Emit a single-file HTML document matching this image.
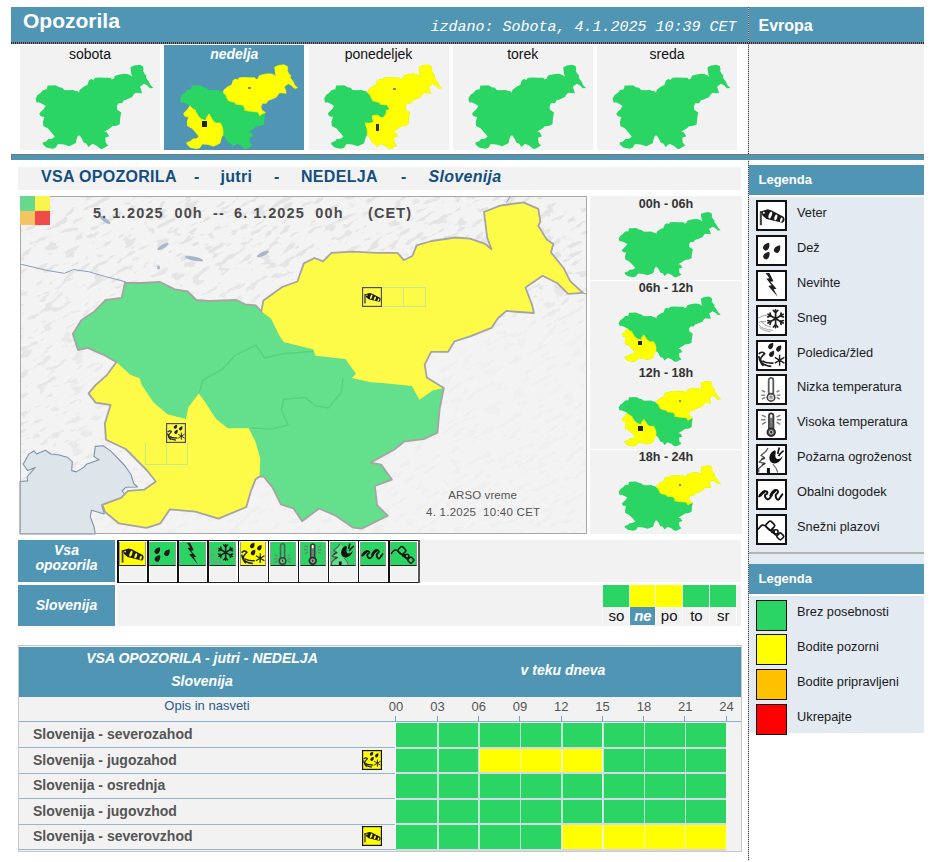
<!DOCTYPE html>
<html><head><meta charset="utf-8"><title>Opozorila</title>
<style>
*{margin:0;padding:0;box-sizing:border-box}
html,body{width:940px;height:862px;overflow:hidden;background:#fff}
body{position:relative;font-family:"Liberation Sans",sans-serif;color:#222}
.a{position:absolute}
.t{position:absolute;white-space:nowrap;line-height:1}
</style></head><body>

<svg width="0" height="0" style="position:absolute"><defs>
<polygon id="slo" points="72.8,334.0 81.3,320.2 94.0,311.7 105.7,300.0 121.7,297.9 124.9,283.0 140.9,283.0 160.0,282.0 174.9,289.4 187.7,291.5 196.2,300.0 208.9,301.0 236.6,300.0 245.0,304.3 255.7,305.3 261.3,311.3 263.4,300.6 282.6,286.8 297.4,281.5 303.8,263.4 314.5,258.0 323.0,261.3 331.5,252.8 352.8,251.7 376.2,252.8 397.4,252.8 403.8,260.2 412.3,256.0 416.6,245.3 431.5,241.0 455.3,237.5 470.2,238.6 485.1,243.9 491.5,249.2 487.2,237.5 484.0,212.0 500.0,205.6 523.4,202.4 538.3,208.8 540.4,221.5 538.3,225.8 546.8,239.6 553.2,243.9 551.0,252.4 563.8,268.3 570.2,281.1 583.0,292.8 568.0,293.9 557.4,283.2 542.6,275.8 525.5,287.5 531.9,304.5 534.0,313.0 519.1,312.0 506.4,310.9 497.9,318.3 491.5,327.9 470.2,336.4 454.5,341.3 448.1,351.9 431.1,351.9 424.7,364.7 426.8,377.4 443.8,388.1 439.6,409.4 437.4,432.8 423.8,439.1 404.7,441.3 394.0,449.8 370.6,462.6 381.3,464.7 391.9,479.6 374.9,486.0 377.0,505.1 387.7,515.7 361.7,528.7 353.2,527.7 336.2,516.0 319.1,508.5 302.1,521.3 293.6,508.5 280.9,504.3 272.3,487.2 263.8,476.6 259.6,476.6 255.6,479.2 251.0,490.8 246.3,507.0 218.5,518.7 195.3,511.7 169.8,509.4 160.5,523.3 146.6,527.9 118.7,523.3 104.8,511.7 102.5,504.7 121.0,497.8 128.0,490.8 144.2,489.7 155.8,481.5 146.6,470.0 125.7,449.0 106.0,439.8 104.8,423.5 110.6,405.0 95.5,402.6 88.6,393.4 95.5,385.2 107.1,374.8 116.4,362.0 102.6,354.3 87.7,347.9 78.0,350.0"/>
<polygon id="ne" points="261.3,311.3 263.4,300.6 282.6,286.8 297.4,281.5 303.8,263.4 314.5,258.0 323.0,261.3 331.5,252.8 352.8,251.7 376.2,252.8 397.4,252.8 403.8,260.2 412.3,256.0 416.6,245.3 431.5,241.0 455.3,237.5 470.2,238.6 485.1,243.9 491.5,249.2 487.2,237.5 484.0,212.0 500.0,205.6 523.4,202.4 538.3,208.8 540.4,221.5 538.3,225.8 546.8,239.6 553.2,243.9 551.0,252.4 563.8,268.3 570.2,281.1 583.0,292.8 568.0,293.9 557.4,283.2 542.6,275.8 525.5,287.5 531.9,304.5 534.0,313.0 519.1,312.0 506.4,310.9 497.9,318.3 491.5,327.9 470.2,336.4 454.5,341.3 448.1,351.9 431.1,351.9 424.7,364.7 426.8,377.4 443.8,388.1 433.2,390.2 419.4,399.8 411.9,386.0 380.0,382.8 370.9,382.3 351.7,378.1 356.0,373.8 345.3,358.9 315.5,355.7 313.4,349.4 283.6,341.9 279.4,335.5 270.9,318.5"/>
<polygon id="sw" points="116.4,362.0 130.3,374.8 139.6,378.3 141.9,385.2 153.5,402.6 167.4,414.2 186.0,418.9 188.3,407.3 198.8,393.4 204.6,401.5 216.2,418.9 227.8,428.2 248.7,428.2 255.6,442.1 260.3,458.3 259.6,476.6 255.6,479.2 251.0,490.8 246.3,507.0 218.5,518.7 195.3,511.7 169.8,509.4 160.5,523.3 146.6,527.9 118.7,523.3 104.8,511.7 102.5,504.7 121.0,497.8 128.0,490.8 144.2,489.7 155.8,481.5 146.6,470.0 125.7,449.0 106.0,439.8 104.8,423.5 110.6,405.0 95.5,402.6 88.6,393.4 95.5,385.2 107.1,374.8 116.4,362.0"/>
<polygon id="se" points="251.0,428.0 270.9,429.1 287.9,424.9 281.5,410.0 283.6,399.4 304.9,397.2 315.5,405.7 328.3,407.9 341.1,393.0 343.2,378.1 351.7,378.1 370.9,382.3 380.0,382.8 411.9,386.0 419.4,399.8 433.2,390.2 443.8,388.1 439.6,409.4 437.4,432.8 423.8,439.1 404.7,441.3 394.0,449.8 370.6,462.6 381.3,464.7 391.9,479.6 374.9,486.0 377.0,505.1 387.7,515.7 361.7,528.7 353.2,527.7 336.2,516.0 319.1,508.5 302.1,521.3 293.6,508.5 280.9,504.3 272.3,487.2 263.8,476.6 259.6,476.6 260.3,458.3 255.6,442.1"/>
<mask id="sockm" maskUnits="userSpaceOnUse" x="0" y="0" width="27" height="27"><rect x="0" y="0" width="27" height="27" fill="#fff"/><ellipse cx="12.3" cy="13.1" rx="1.5" ry="3.5" transform="rotate(20 12.3 13.1)" fill="#000"/><ellipse cx="17.8" cy="15.5" rx="1.4" ry="3" transform="rotate(20 17.8 15.5)" fill="#000"/><ellipse cx="23.3" cy="17.8" rx="1.2" ry="2.3" transform="rotate(20 23.3 17.8)" fill="#000"/><circle cx="5.8" cy="10.8" r="1" fill="#000"/></mask>
<g id="i1"><rect x="1.8" y="9.4" width="2.1" height="13.8" fill="#444"/>
<path d="M1.8,9.7 L9.7,7.3 L13.2,8.2 L25.6,14.8 C27.3,16.4 26.6,20.6 24.2,20.8 L8.5,16.9 L4.2,13.3 L3.9,10.9 Z" fill="#1a1a1a" mask="url(#sockm)"/></g>
<path id="drop" d="M0,-4.8 C2.3,-2.6 3.1,-0.6 3,1.3 A2.9,2.9 0 1 1 -2.9,1.3 C-3,-0.6 -2.3,-2.6 0,-4.8Z"/>
<g id="i2" fill="#1e1e1e"><use href="#drop" transform="translate(8.5,9.6) rotate(35) scale(0.95)"/><use href="#drop" transform="translate(19.4,12) rotate(35) scale(0.95)"/><use href="#drop" transform="translate(8.7,18.4) rotate(35) scale(0.95)"/></g>
<polygon id="i3" fill="#1e1e1e" points="7.6,0.9 11.4,0.9 15.5,9.3 12.4,9.8 18.5,16.8 15.7,17.3 19.9,25 10.3,13.9 13.6,13.2 8.4,6.8 11.4,6.3"/>
<g id="i4"><path d="M0.3,11 Q5,8 9,8.2 M0.6,15.5 Q4,14 8,14.5 M0.7,17.6 Q3,22 15,23.4 M1.5,20.5 Q6,24.5 12.5,24.8 M3,14 Q6,19 13,20.2" stroke="#8c8c8c" stroke-width="0.8" fill="none"/>
<g stroke="#1e1e1e" stroke-width="1.7" fill="none" stroke-linecap="round" transform="translate(0.6,1)"><path d="M17,1.8 V19.6 M9.4,6.3 L24.6,15.1 M9.4,15.1 L24.6,6.3"/>
<path d="M14.8,2.4 L17,4.6 L19.2,2.4 M14.8,19 L17,16.8 L19.2,19 M9.2,8.9 L12.1,8 L11.5,5 M24.8,12.5 L21.9,13.4 L22.5,16.4 M11.5,16.4 L12.1,13.4 L9.2,12.5 M22.5,5 L21.9,8 L24.8,8.9"/></g></g>
<g id="i5"><g fill="#1e1e1e"><use href="#drop" transform="translate(12.9,3.9) rotate(35) scale(0.78)"/><use href="#drop" transform="translate(20.9,6.4) rotate(35) scale(0.78)"/><use href="#drop" transform="translate(13.8,11.8) rotate(35) scale(0.78)"/></g>
<path d="M0.7,12 C2.5,10 5.5,9.5 6.6,11.6 C5,13.5 3,14.5 2.6,17.5 C2.4,21 5,23.3 13.3,24.3 M4.4,18.6 C5.5,20.6 9,21 15.5,21.2 M0.8,14.2 C1.5,18 2,21 5.5,23.8" stroke="#1e1e1e" stroke-width="1.7" fill="none"/>
<path d="M21.6,12.8 V23.7 M16.8,15.4 L26.4,21.2 M16.8,21.2 L26.4,15.4" stroke="#1e1e1e" stroke-width="1.4"/></g>
<g id="i6"><path d="M10.7,18.6 V4.2 A2.3,2.3 0 0 1 15.3,4.2 V18.6" fill="none" stroke="#5a5a5a" stroke-width="1.8"/><circle cx="13" cy="21.4" r="3.7" fill="none" stroke="#3e3e3e" stroke-width="1.7"/><circle cx="13" cy="21.4" r="1.7" fill="none" stroke="#9a9a9a" stroke-width="1"/><rect x="12.5" y="20" width="1" height="2.2" fill="#333"/>
<path d="M3.9,14.3 L7.2,16.1 M3.2,19.1 H7.2 M3.9,23.2 L7.2,21.3 M21.3,14.3 L18.7,16.1 M22.5,19.1 H18.7 M21.7,23.2 L18.7,21.3" stroke="#7a7a7a" stroke-width="1.4"/></g>
<g id="i7"><path d="M10.9,18.2 V4.6 A2.3,2.3 0 0 1 15.5,4.6 V18.2" fill="#777" stroke="#3a3a3a" stroke-width="1.6"/><rect x="12.2" y="3.4" width="2" height="3.6" rx="1" fill="#fff"/><circle cx="13.2" cy="21.2" r="3.9" fill="#5a5a5a" stroke="#2a2a2a" stroke-width="1.6"/><circle cx="13.2" cy="21.2" r="1.8" fill="none" stroke="#ccc" stroke-width="0.9"/><rect x="12.7" y="19.9" width="1" height="2.2" fill="#222"/>
<path d="M4.1,4.1 L7.8,6.2 M3.2,8.7 H7.4 M4.1,13.3 L7.8,11.2 M22.3,4.1 L18.6,6.2 M23.2,8.7 H19 M22.3,13.3 L18.6,11.2" stroke="#7a7a7a" stroke-width="1.4"/></g>
<g id="i8"><path d="M10,2 L8.2,5 L3,9.5 L6,11.3 L1.1,16.1 L6.7,17.3 L0.7,22.5 V26.5 H19.7 L18.2,22.5 L14.8,18 C12.5,16.5 11.3,14.5 11.4,12.5 C11.5,9.5 12.5,7 13.5,5.5 Z" fill="#fff" fill-opacity="0.25"/><path d="M10,2 L8.2,5 L3,9.5 L6,11.3 L1.1,16.1 L6.7,17.3 L0.7,22.5 V26.5" stroke="#555" stroke-width="1.3" fill="none" stroke-linejoin="round"/>
<path d="M14.8,18 L18.2,22.5 L19.7,26.5" stroke="#666" stroke-width="1.1" fill="none"/>
<path d="M3.3,13.6 L7,11.7 M4,18.8 L7.4,17.3" stroke="#333" stroke-width="1.6"/>
<rect x="8.9" y="22" width="3" height="5" fill="#111"/>
<path d="M16.9,4.2 C13.4,5.4 11.3,8.6 11.4,12.5 C11.5,15.6 13.6,17.5 16.6,17.4 C20.2,17.3 23.2,14.4 25,9.7 C23.5,11.6 21.6,13.2 19.6,13.1 C17.6,13 17,10.6 17.4,8.6 C17.7,7 18.3,5.5 16.9,4.2 Z" fill="#111"/>
<path d="M21.3,1.6 C20.6,4 20.1,6 19.8,7.8 M25.6,4.6 C23.4,6.4 21.6,8 20.5,10" stroke="#111" stroke-width="1.7" fill="none"/></g>
<g id="i9"><path d="M0.8,16 C2.5,13.5 4.5,10.5 7,10.2 C8.8,10 9.8,11.2 9.1,12.5 C8.5,13.5 7.2,13.2 7,14.3 C6.8,15.6 8,18.4 9.8,18.4 C12,18.4 13,15 14.5,12 C15.5,10 16.8,9 18.3,9.1 C19.9,9.3 20.3,10.6 19.7,11.8 C19.1,12.8 17.9,12.8 17.7,14 C17.5,16 18.5,18.9 20.1,18.7 C22.1,18.4 23.3,13.7 25,12.9" stroke="#111" stroke-width="2" fill="none"/>
<path d="M1.8,15 C3.3,12.8 5,10.9 7,10.6 M12.6,15.2 C13.6,12.6 15.3,9.9 17.8,9.5" stroke="#111" stroke-width="3" fill="none"/></g>
<g id="i10" stroke="#111" stroke-width="1.6" fill="none"><path d="M0,13.5 C1.5,11.5 3,9.3 4.5,9.1 C5.5,9 6.2,9.3 7,9.6 L13,14.8 L18.6,19.6"/><rect x="-3.7" y="-3.7" width="7.4" height="7.4" rx="1.8" transform="translate(12.2,9.6) rotate(45)"/><circle cx="14.8" cy="15.1" r="1.4"/><circle cx="18" cy="15.9" r="2.1"/><rect x="-2.8" y="-2.8" width="5.6" height="5.6" rx="1.5" transform="translate(22.3,20.4) rotate(45)"/></g>

</defs></svg>
<div class="a" style="left:11px;top:7px;width:913px;height:35px;background:#5096b4"></div>
<div class="a" style="left:11px;top:42px;width:913px;height:1.5px;background:repeating-linear-gradient(90deg,#2a2a2a 0 1px,#7a8c96 1px 2px)"></div>
<div class="a" style="left:748px;top:7px;width:1px;height:854px;background:repeating-linear-gradient(180deg,#444 0 1px,#c8c8c8 1px 2px)"></div>
<div class="t" style="left:23px;top:10px;font-size:21px;font-weight:bold;color:#fff">Opozorila</div>
<div class="t" style="left:430.5px;top:19.5px;font-family:'Liberation Mono',monospace;font-style:italic;font-size:15px;color:#fff">izdano: Sobota, 4.1.2025 10:39 CET</div>
<div class="t" style="left:758.5px;top:17.5px;font-size:16px;font-weight:bold;color:#fff">Evropa</div>
<div class="a" style="left:20.00px;top:45px;width:140px;height:105px;background:#f2f2f2"></div>
<div class="t" style="left:20.00px;top:47px;width:140px;text-align:center;font-size:14px;color:#111">sobota</div>
<svg class="a" style="left:0;top:0" width="940" height="160"><g transform="translate(18.81,12.48) scale(0.2307,0.2580)"><use href="#slo" fill="#2ad564"/></g></svg>
<div class="a" style="left:164.25px;top:45px;width:140px;height:105px;background:#5096b4"></div>
<div class="t" style="left:164.25px;top:47px;width:140px;text-align:center;font-size:14px;font-weight:bold;font-style:italic;color:#fff">nedelja</div>
<svg class="a" style="left:0;top:0" width="940" height="160"><g transform="translate(163.06,12.48) scale(0.2307,0.2580)"><use href="#slo" fill="#2ad564"/><use href="#ne" fill="#ffff00" stroke="#ffff00" stroke-width="2.5" stroke-linejoin="round"/><use href="#sw" fill="#ffff00" stroke="#ffff00" stroke-width="2.5" stroke-linejoin="round"/></g></svg>
<div class="a" style="left:308.50px;top:45px;width:140px;height:105px;background:#f2f2f2"></div>
<div class="t" style="left:308.50px;top:47px;width:140px;text-align:center;font-size:14px;color:#111">ponedeljek</div>
<svg class="a" style="left:0;top:0" width="940" height="160"><g transform="translate(307.31,12.48) scale(0.2307,0.2580)"><use href="#slo" fill="#2ad564"/><use href="#ne" fill="#ffff00" stroke="#ffff00" stroke-width="2.5" stroke-linejoin="round"/><use href="#se" fill="#ffff00" stroke="#ffff00" stroke-width="2.5" stroke-linejoin="round"/></g></svg>
<div class="a" style="left:452.75px;top:45px;width:140px;height:105px;background:#f2f2f2"></div>
<div class="t" style="left:452.75px;top:47px;width:140px;text-align:center;font-size:14px;color:#111">torek</div>
<svg class="a" style="left:0;top:0" width="940" height="160"><g transform="translate(451.56,12.48) scale(0.2307,0.2580)"><use href="#slo" fill="#2ad564"/></g></svg>
<div class="a" style="left:597.00px;top:45px;width:140px;height:105px;background:#f2f2f2"></div>
<div class="t" style="left:597.00px;top:47px;width:140px;text-align:center;font-size:14px;color:#111">sreda</div>
<svg class="a" style="left:0;top:0" width="940" height="160"><g transform="translate(595.81,12.48) scale(0.2307,0.2580)"><use href="#slo" fill="#2ad564"/></g></svg>
<div class="a" style="left:749px;top:44px;width:175px;height:110px;background:#f2f2f2"></div>
<div class="a" style="left:201.5px;top:120.5px;width:5px;height:6px;background:#222"></div>
<div class="a" style="left:248px;top:87px;width:3px;height:2px;background:#888"></div>
<div class="a" style="left:376px;top:124px;width:3px;height:7px;background:#333"></div>
<div class="a" style="left:393px;top:87.5px;width:3px;height:2px;background:#888"></div>
<div class="a" style="left:11px;top:154px;width:913px;height:6px;background:#5096b4;border-top:1px solid #777;border-left:1px solid #777"></div>
<div class="a" style="left:18px;top:167px;width:723px;height:23px;background:#f2f2f2"></div>
<div class="t" style="top:169px;font-size:16px;font-weight:bold;color:#124f80;letter-spacing:0.3px;left:41px">VSA OPOZORILA</div>
<div class="t" style="top:169px;font-size:16px;font-weight:bold;color:#124f80;letter-spacing:0.3px;left:194px">-</div>
<div class="t" style="top:169px;font-size:16px;font-weight:bold;color:#124f80;letter-spacing:0.3px;left:220.5px">jutri</div>
<div class="t" style="top:169px;font-size:16px;font-weight:bold;color:#124f80;letter-spacing:0.3px;left:274px">-</div>
<div class="t" style="top:169px;font-size:16px;font-weight:bold;color:#124f80;letter-spacing:0.3px;left:301px">NEDELJA</div>
<div class="t" style="top:169px;font-size:16px;font-weight:bold;color:#124f80;letter-spacing:0.3px;left:401px">-</div>
<div class="t" style="top:169px;font-size:16px;font-weight:bold;color:#124f80;letter-spacing:0.3px;left:428.5px;font-style:italic">Slovenija</div>
<svg class="a" style="left:0;top:0" width="940" height="862">
<rect x="20.5" y="196.5" width="566" height="337" fill="#f3f3f3" stroke="#a8a8a8" stroke-width="1"/>
<defs><filter id="relief" x="0" y="0" width="100%" height="100%" color-interpolation-filters="sRGB"><feTurbulence type="fractalNoise" baseFrequency="0.07 0.2" numOctaves="3" seed="4" result="n"/><feColorMatrix in="n" type="matrix" values="0 0 0 0 0.865  0 0 0 0 0.865  0 0 0 0 0.865  -12 0 0 0 5.2"/></filter><linearGradient id="rg" x1="0" y1="0" x2="0" y2="1"><stop offset="0" stop-color="#fff"/><stop offset="0.6" stop-color="#fff" stop-opacity="0.9"/><stop offset="1" stop-color="#fff" stop-opacity="0"/></linearGradient><linearGradient id="rg2" x1="0" y1="0" x2="1" y2="0"><stop offset="0" stop-color="#fff" stop-opacity="0.9"/><stop offset="1" stop-color="#fff" stop-opacity="0"/></linearGradient><mask id="rmask"><rect x="21" y="197" width="565" height="336" fill="#fff" fill-opacity="0.22"/><rect x="21" y="197" width="565" height="140" fill="url(#rg)"/><rect x="21" y="300" width="130" height="200" fill="url(#rg2)"/></mask><clipPath id="mapclip"><rect x="21" y="197" width="565" height="336"/></clipPath></defs>
<g clip-path="url(#mapclip)" mask="url(#rmask)"><g transform="rotate(-28 300 365)"><rect x="-100" y="60" width="800" height="620" filter="url(#relief)" opacity="0.7"/></g></g>
<g fill="#a9b9cc" stroke="#8fa3bb" stroke-width="0.5"><ellipse cx="105" cy="220" rx="6" ry="1.6" transform="rotate(35 105 220)"/><ellipse cx="163" cy="246.5" rx="6" ry="1.5" transform="rotate(-30 163 246.5)"/><ellipse cx="194" cy="258.6" rx="9" ry="1.6" transform="rotate(12 194 258.6)"/><ellipse cx="158.5" cy="267.5" rx="1.2" ry="1.8"/><ellipse cx="262.8" cy="254" rx="6" ry="1.6" transform="rotate(-25 262.8 254)"/></g>
<polygon points="20.0,481.5 27.7,480.9 27.0,477.0 35.3,467.4 27.7,470.6 23.2,464.3 28.9,454.0 34.0,450.9 36.6,454.0 45.5,450.2 50.6,454.0 58.3,454.7 67.2,457.2 72.3,461.7 71.7,470.6 76.2,471.9 83.8,467.4 86.4,464.3 93.4,461.7 99.2,459.8 94.0,456.6 95.3,446.4 103.0,445.7 110.6,450.9 124.7,465.5 131.0,474.5 133.6,483.4 137.5,487.0 126.0,487.2 122.1,491.0 128.5,498.7 114.5,502.6 101.7,505.1 104.3,514.0 91.5,510.2 90.2,516.6 94.0,526.8 95.3,534.0 20.0,534.0" fill="#dde4ea" stroke="#7d93ad" stroke-width="1.1" stroke-linejoin="round"/>
<polyline points="20,264 45.9,270.2 64.4,273.3 73.6,269.6 89,271.8 104.5,276.4 116.9,279.5 126.1,282" fill="none" stroke="#8a9fb8" stroke-width="1"/>
<polyline points="510.6,196.5 506.4,202.4" fill="none" stroke="#8a9fb8" stroke-width="1"/><polyline points="583,292.8 586,294.3" fill="none" stroke="#8a9fb8" stroke-width="1"/>
<g>
<use href="#slo" fill="#64df8c"/>
<use href="#ne" fill="#fdfb48"/>
<use href="#sw" fill="#fdfb48"/>
<polyline points="199.0,393.0 202.8,380.2 221.9,369.6 234.7,355.7 256.0,345.1 264.5,357.9 283.6,353.6 313.4,351.5" fill="none" stroke="#57cf80" stroke-width="1.4"/>
<polyline points="251.0,428.0 270.9,429.1 287.9,424.9 281.5,410.0 283.6,399.4 304.9,397.2 315.5,405.7 328.3,407.9 341.1,393.0 343.2,378.1" fill="none" stroke="#57cf80" stroke-width="1.4"/>
<use href="#slo" fill="none" stroke="#a4a4a4" stroke-width="1.8" stroke-linejoin="round"/>
</g>
<rect x="20.5" y="196.5" width="566" height="337" fill="none" stroke="#a8a8a8" stroke-width="1"/>
<rect x="20" y="196" width="15" height="15" fill="#66d98c"/><rect x="35" y="196" width="15" height="15" fill="#f9f54a"/><rect x="20" y="211" width="15" height="14" fill="#f5c462"/><rect x="35" y="211" width="15" height="14" fill="#f04a4a"/>
</svg>
<div class="t" style="left:92.9px;top:206px;font-size:14.5px;font-weight:bold;color:#4a4a4a;letter-spacing:1.1px">5.</div>
<div class="t" style="left:112.2px;top:206px;font-size:14.5px;font-weight:bold;color:#4a4a4a;letter-spacing:1.1px">1.</div>
<div class="t" style="left:127.1px;top:206px;font-size:14.5px;font-weight:bold;color:#4a4a4a;letter-spacing:1.1px">2025</div>
<div class="t" style="left:174.5px;top:206px;font-size:14.5px;font-weight:bold;color:#4a4a4a;letter-spacing:1.1px">00h</div>
<div class="t" style="left:213px;top:206px;font-size:14.5px;font-weight:bold;color:#4a4a4a;letter-spacing:1.1px">--</div>
<div class="t" style="left:234px;top:206px;font-size:14.5px;font-weight:bold;color:#4a4a4a;letter-spacing:1.1px">6.</div>
<div class="t" style="left:253.3px;top:206px;font-size:14.5px;font-weight:bold;color:#4a4a4a;letter-spacing:1.1px">1.</div>
<div class="t" style="left:268.2px;top:206px;font-size:14.5px;font-weight:bold;color:#4a4a4a;letter-spacing:1.1px">2025</div>
<div class="t" style="left:315.3px;top:206px;font-size:14.5px;font-weight:bold;color:#4a4a4a;letter-spacing:1.1px">00h</div>
<div class="t" style="left:368.1px;top:206px;font-size:14.5px;font-weight:bold;color:#4a4a4a;letter-spacing:1.1px">(CET)</div>
<div class="t" style="left:448.3px;top:489.5px;font-size:11.5px;color:#555;letter-spacing:0.1px">ARSO vreme</div>
<div class="t" style="left:426px;top:506.5px;font-size:11.5px;color:#555;letter-spacing:0.25px">4. 1.2025&nbsp;&nbsp;10:40 CET</div>
<svg class="a" style="left:362px;top:287px" width="20" height="20" viewBox="0 0 27 27"><rect x="0.8" y="0.8" width="25.4" height="25.4" fill="none" stroke="#505050" stroke-width="1.6"/><g transform="translate(1.5,1.5) scale(0.89)"><use href="#i1"/></g></svg>
<div class="a" style="left:382px;top:287px;width:44px;height:20px;border:1px solid #c8e890;border-left:none"></div><div class="a" style="left:403px;top:287px;width:1px;height:20px;background:#c8e890"></div>
<svg class="a" style="left:166px;top:423px" width="20" height="20" viewBox="0 0 27 27"><rect x="0.8" y="0.8" width="25.4" height="25.4" fill="none" stroke="#505050" stroke-width="1.6"/><g transform="translate(1.5,1.5) scale(0.89)"><use href="#i5"/></g></svg>
<div class="a" style="left:145px;top:443px;width:43px;height:22px;border:1px solid #c8e890;border-top:none"></div><div class="a" style="left:166px;top:443px;width:1px;height:22px;background:#c8e890"></div>
<div class="a" style="left:590px;top:196px;width:152px;height:84px;background:#f2f2f2"></div>
<div class="t" style="left:590px;top:197.5px;width:152px;text-align:center;font-size:12.6px;font-weight:bold;color:#333">00h - 06h</div>
<svg class="a" style="left:0;top:0" width="940" height="862"><g transform="translate(604.04,171.62) scale(0.200)"><use href="#slo" fill="#2ad564"/></g></svg>
<div class="a" style="left:590px;top:280.5px;width:152px;height:84px;background:#f2f2f2"></div>
<div class="t" style="left:590px;top:282.0px;width:152px;text-align:center;font-size:12.6px;font-weight:bold;color:#333">06h - 12h</div>
<svg class="a" style="left:0;top:0" width="940" height="862"><g transform="translate(604.04,256.12) scale(0.200)"><use href="#slo" fill="#2ad564"/><use href="#sw" fill="#ffff00" stroke="#ffff00" stroke-width="2.5" stroke-linejoin="round"/></g></svg>
<div class="a" style="left:590px;top:365px;width:152px;height:84px;background:#f2f2f2"></div>
<div class="t" style="left:590px;top:366.5px;width:152px;text-align:center;font-size:12.6px;font-weight:bold;color:#333">12h - 18h</div>
<svg class="a" style="left:0;top:0" width="940" height="862"><g transform="translate(604.04,340.62) scale(0.200)"><use href="#slo" fill="#2ad564"/><use href="#ne" fill="#ffff00" stroke="#ffff00" stroke-width="2.5" stroke-linejoin="round"/><use href="#sw" fill="#ffff00" stroke="#ffff00" stroke-width="2.5" stroke-linejoin="round"/></g></svg>
<div class="a" style="left:590px;top:449.5px;width:152px;height:84px;background:#f2f2f2"></div>
<div class="t" style="left:590px;top:451.0px;width:152px;text-align:center;font-size:12.6px;font-weight:bold;color:#333">18h - 24h</div>
<svg class="a" style="left:0;top:0" width="940" height="862"><g transform="translate(604.04,425.12) scale(0.200)"><use href="#slo" fill="#2ad564"/><use href="#ne" fill="#ffff00" stroke="#ffff00" stroke-width="2.5" stroke-linejoin="round"/></g></svg>
<div class="a" style="left:637.5px;top:341px;width:4px;height:4px;background:#222"></div>
<div class="a" style="left:638px;top:426px;width:4.5px;height:4.5px;background:#222"></div>
<div class="a" style="left:678.5px;top:399.5px;width:2px;height:2px;background:#888"></div>
<div class="a" style="left:678.5px;top:484px;width:2px;height:2px;background:#888"></div>
<div class="a" style="left:749px;top:165px;width:175px;height:30px;background:#5096b4"></div>
<div class="t" style="left:758.5px;top:173px;font-size:13px;font-weight:bold;color:#fff">Legenda</div>
<div class="a" style="left:749px;top:197px;width:175px;height:355px;background:#e3eaf2"></div>
<div class="a" style="left:756px;top:200.4px;width:31px;height:31px;background:#fff;border:2px solid #111"></div>
<svg class="a" style="left:758px;top:202.4px" width="27" height="27" viewBox="0 0 27 27"><use href="#i1"/></svg>
<div class="t" style="left:797px;top:207.4px;font-size:12.8px;color:#1a1a1a">Veter</div>
<div class="a" style="left:756px;top:235.2px;width:31px;height:31px;background:#fff;border:2px solid #111"></div>
<svg class="a" style="left:758px;top:237.2px" width="27" height="27" viewBox="0 0 27 27"><use href="#i2"/></svg>
<div class="t" style="left:797px;top:242.2px;font-size:12.8px;color:#1a1a1a">Dež</div>
<div class="a" style="left:756px;top:270.0px;width:31px;height:31px;background:#fff;border:2px solid #111"></div>
<svg class="a" style="left:758px;top:272.0px" width="27" height="27" viewBox="0 0 27 27"><use href="#i3"/></svg>
<div class="t" style="left:797px;top:277.0px;font-size:12.8px;color:#1a1a1a">Nevihte</div>
<div class="a" style="left:756px;top:304.8px;width:31px;height:31px;background:#fff;border:2px solid #111"></div>
<svg class="a" style="left:758px;top:306.8px" width="27" height="27" viewBox="0 0 27 27"><use href="#i4"/></svg>
<div class="t" style="left:797px;top:311.8px;font-size:12.8px;color:#1a1a1a">Sneg</div>
<div class="a" style="left:756px;top:339.6px;width:31px;height:31px;background:#fff;border:2px solid #111"></div>
<svg class="a" style="left:758px;top:341.6px" width="27" height="27" viewBox="0 0 27 27"><use href="#i5"/></svg>
<div class="t" style="left:797px;top:346.6px;font-size:12.8px;color:#1a1a1a">Poledica/žled</div>
<div class="a" style="left:756px;top:374.4px;width:31px;height:31px;background:#fff;border:2px solid #111"></div>
<svg class="a" style="left:758px;top:376.4px" width="27" height="27" viewBox="0 0 27 27"><use href="#i6"/></svg>
<div class="t" style="left:797px;top:381.4px;font-size:12.8px;color:#1a1a1a">Nizka temperatura</div>
<div class="a" style="left:756px;top:409.2px;width:31px;height:31px;background:#fff;border:2px solid #111"></div>
<svg class="a" style="left:758px;top:411.2px" width="27" height="27" viewBox="0 0 27 27"><use href="#i7"/></svg>
<div class="t" style="left:797px;top:416.2px;font-size:12.8px;color:#1a1a1a">Visoka temperatura</div>
<div class="a" style="left:756px;top:444.0px;width:31px;height:31px;background:#fff;border:2px solid #111"></div>
<svg class="a" style="left:758px;top:446.0px" width="27" height="27" viewBox="0 0 27 27"><use href="#i8"/></svg>
<div class="t" style="left:797px;top:451.0px;font-size:12.8px;color:#1a1a1a">Požarna ogroženost</div>
<div class="a" style="left:756px;top:478.8px;width:31px;height:31px;background:#fff;border:2px solid #111"></div>
<svg class="a" style="left:758px;top:480.8px" width="27" height="27" viewBox="0 0 27 27"><use href="#i9"/></svg>
<div class="t" style="left:797px;top:485.8px;font-size:12.8px;color:#1a1a1a">Obalni dogodek</div>
<div class="a" style="left:756px;top:513.6px;width:31px;height:31px;background:#fff;border:2px solid #111"></div>
<svg class="a" style="left:758px;top:515.6px" width="27" height="27" viewBox="0 0 27 27"><use href="#i10"/></svg>
<div class="t" style="left:797px;top:520.6px;font-size:12.8px;color:#1a1a1a">Snežni plazovi</div>
<div class="a" style="left:749px;top:552px;width:175px;height:2px;background:#b4b4b4"></div>
<div class="a" style="left:749px;top:554px;width:175px;height:10px;background:#e3eaf2"></div>
<div class="a" style="left:749px;top:564px;width:175px;height:30px;background:#5096b4"></div>
<div class="t" style="left:758.5px;top:571.5px;font-size:13px;font-weight:bold;color:#fff">Legenda</div>
<div class="a" style="left:749px;top:596px;width:175px;height:137px;background:#e3eaf2"></div>
<div class="a" style="left:756px;top:599.5px;width:31px;height:31px;background:#2ad564;border:1px solid #111"></div>
<div class="t" style="left:797px;top:606.0px;font-size:12.8px;color:#1a1a1a">Brez posebnosti</div>
<div class="a" style="left:756px;top:634.4px;width:31px;height:31px;background:#ffff00;border:1px solid #111"></div>
<div class="t" style="left:797px;top:640.9px;font-size:12.8px;color:#1a1a1a">Bodite pozorni</div>
<div class="a" style="left:756px;top:669.3px;width:31px;height:31px;background:#ffc000;border:1px solid #111"></div>
<div class="t" style="left:797px;top:675.8px;font-size:12.8px;color:#1a1a1a">Bodite pripravljeni</div>
<div class="a" style="left:756px;top:704.2px;width:31px;height:31px;background:#ff0000;border:1px solid #111"></div>
<div class="t" style="left:797px;top:710.7px;font-size:12.8px;color:#1a1a1a">Ukrepajte</div>
<div class="a" style="left:18px;top:540px;width:97px;height:42px;background:#5096b4"></div>
<div class="t" style="left:18px;top:543px;width:97px;text-align:center;font-size:14px;font-weight:bold;font-style:italic;color:#fff;line-height:14.5px;white-space:normal">Vsa<br>opozorila</div>
<div class="a" style="left:419px;top:540px;width:322px;height:42px;background:#f2f2f2"></div>
<div class="a" style="left:117px;top:540px;width:302px;height:42.5px;background:#fff;border-top:1.5px solid #111;border-bottom:1.5px solid #222"></div>
<div class="a" style="left:117.1px;top:540px;width:1.5px;height:42.5px;background:#111"></div>
<div class="a" style="left:119.1px;top:541.5px;width:26.5px;height:24.5px;background:#ffff00;border-left:1px solid #9a9a9a;border-right:1.5px solid #9a9a9a;border-bottom:1px solid #222"></div>
<svg class="a" style="left:120.1px;top:541.5px" width="24" height="23.5" viewBox="0 0 27 26.5"><use href="#i1"/></svg>
<div class="a" style="left:119.6px;top:566px;width:26.5px;height:14.5px;background:#f2f2f2"></div>
<div class="a" style="left:147.2px;top:540px;width:1.5px;height:42.5px;background:#111"></div>
<div class="a" style="left:149.2px;top:541.5px;width:26.5px;height:24.5px;background:#2ad564;border-left:1px solid #9a9a9a;border-right:1.5px solid #9a9a9a;border-bottom:1px solid #222"></div>
<svg class="a" style="left:150.2px;top:541.5px" width="24" height="23.5" viewBox="0 0 27 26.5"><use href="#i2"/></svg>
<div class="a" style="left:149.7px;top:566px;width:26.5px;height:14.5px;background:#f2f2f2"></div>
<div class="a" style="left:177.3px;top:540px;width:1.5px;height:42.5px;background:#111"></div>
<div class="a" style="left:179.3px;top:541.5px;width:26.5px;height:24.5px;background:#2ad564;border-left:1px solid #9a9a9a;border-right:1.5px solid #9a9a9a;border-bottom:1px solid #222"></div>
<svg class="a" style="left:180.3px;top:541.5px" width="24" height="23.5" viewBox="0 0 27 26.5"><use href="#i3"/></svg>
<div class="a" style="left:179.8px;top:566px;width:26.5px;height:14.5px;background:#f2f2f2"></div>
<div class="a" style="left:207.4px;top:540px;width:1.5px;height:42.5px;background:#111"></div>
<div class="a" style="left:209.4px;top:541.5px;width:26.5px;height:24.5px;background:#2ad564;border-left:1px solid #9a9a9a;border-right:1.5px solid #9a9a9a;border-bottom:1px solid #222"></div>
<svg class="a" style="left:210.4px;top:541.5px" width="24" height="23.5" viewBox="0 0 27 26.5"><use href="#i4"/></svg>
<div class="a" style="left:209.9px;top:566px;width:26.5px;height:14.5px;background:#f2f2f2"></div>
<div class="a" style="left:237.5px;top:540px;width:1.5px;height:42.5px;background:#111"></div>
<div class="a" style="left:239.5px;top:541.5px;width:26.5px;height:24.5px;background:#ffff00;border-left:1px solid #9a9a9a;border-right:1.5px solid #9a9a9a;border-bottom:1px solid #222"></div>
<svg class="a" style="left:240.5px;top:541.5px" width="24" height="23.5" viewBox="0 0 27 26.5"><use href="#i5"/></svg>
<div class="a" style="left:240.0px;top:566px;width:26.5px;height:14.5px;background:#f2f2f2"></div>
<div class="a" style="left:267.6px;top:540px;width:1.5px;height:42.5px;background:#111"></div>
<div class="a" style="left:269.6px;top:541.5px;width:26.5px;height:24.5px;background:#2ad564;border-left:1px solid #9a9a9a;border-right:1.5px solid #9a9a9a;border-bottom:1px solid #222"></div>
<svg class="a" style="left:270.6px;top:541.5px" width="24" height="23.5" viewBox="0 0 27 26.5"><use href="#i6"/></svg>
<div class="a" style="left:270.1px;top:566px;width:26.5px;height:14.5px;background:#f2f2f2"></div>
<div class="a" style="left:297.7px;top:540px;width:1.5px;height:42.5px;background:#111"></div>
<div class="a" style="left:299.7px;top:541.5px;width:26.5px;height:24.5px;background:#2ad564;border-left:1px solid #9a9a9a;border-right:1.5px solid #9a9a9a;border-bottom:1px solid #222"></div>
<svg class="a" style="left:300.7px;top:541.5px" width="24" height="23.5" viewBox="0 0 27 26.5"><use href="#i7"/></svg>
<div class="a" style="left:300.2px;top:566px;width:26.5px;height:14.5px;background:#f2f2f2"></div>
<div class="a" style="left:327.8px;top:540px;width:1.5px;height:42.5px;background:#111"></div>
<div class="a" style="left:329.8px;top:541.5px;width:26.5px;height:24.5px;background:#2ad564;border-left:1px solid #9a9a9a;border-right:1.5px solid #9a9a9a;border-bottom:1px solid #222"></div>
<svg class="a" style="left:330.8px;top:541.5px" width="24" height="23.5" viewBox="0 0 27 26.5"><use href="#i8"/></svg>
<div class="a" style="left:330.3px;top:566px;width:26.5px;height:14.5px;background:#f2f2f2"></div>
<div class="a" style="left:357.9px;top:540px;width:1.5px;height:42.5px;background:#111"></div>
<div class="a" style="left:359.9px;top:541.5px;width:26.5px;height:24.5px;background:#2ad564;border-left:1px solid #9a9a9a;border-right:1.5px solid #9a9a9a;border-bottom:1px solid #222"></div>
<svg class="a" style="left:360.9px;top:541.5px" width="24" height="23.5" viewBox="0 0 27 26.5"><use href="#i9"/></svg>
<div class="a" style="left:360.4px;top:566px;width:26.5px;height:14.5px;background:#f2f2f2"></div>
<div class="a" style="left:388.0px;top:540px;width:1.5px;height:42.5px;background:#111"></div>
<div class="a" style="left:390.0px;top:541.5px;width:26.5px;height:24.5px;background:#2ad564;border-left:1px solid #9a9a9a;border-right:1.5px solid #9a9a9a;border-bottom:1px solid #222"></div>
<svg class="a" style="left:391.0px;top:541.5px" width="24" height="23.5" viewBox="0 0 27 26.5"><use href="#i10"/></svg>
<div class="a" style="left:390.5px;top:566px;width:26.5px;height:14.5px;background:#f2f2f2"></div>
<div class="a" style="left:418.1px;top:540px;width:1.5px;height:42.5px;background:#555"></div>
<div class="a" style="left:419.6px;top:540px;width:321.4px;height:42px;background:#f2f2f2"></div>
<div class="a" style="left:18px;top:585px;width:97px;height:41px;background:#5096b4"></div>
<div class="t" style="left:18px;top:598px;width:97px;text-align:center;font-size:14px;font-weight:bold;font-style:italic;color:#fff">Slovenija</div>
<div class="a" style="left:117px;top:585px;width:624px;height:41px;background:#f2f2f2"></div>
<div class="a" style="left:603.4px;top:585px;width:26.0px;height:21.5px;background:#2ad564"></div>
<div class="t" style="left:603.4px;top:608px;width:26px;text-align:center;font-size:15px;color:#111">so</div>
<div class="a" style="left:630.4px;top:585px;width:24.8px;height:21.5px;background:#ffff00"></div>
<div class="a" style="left:630.4px;top:607px;width:25px;height:18px;background:#5096b4"></div>
<div class="t" style="left:630.4px;top:608px;width:25px;text-align:center;font-size:15px;font-weight:bold;font-style:italic;color:#fff">ne</div>
<div class="a" style="left:656.2px;top:585px;width:26.2px;height:21.5px;background:#ffff00"></div>
<div class="t" style="left:656.2px;top:608px;width:26px;text-align:center;font-size:15px;color:#111">po</div>
<div class="a" style="left:683.4px;top:585px;width:25.9px;height:21.5px;background:#2ad564"></div>
<div class="t" style="left:683.4px;top:608px;width:26px;text-align:center;font-size:15px;color:#111">to</div>
<div class="a" style="left:710.3px;top:585px;width:25.7px;height:21.5px;background:#2ad564"></div>
<div class="t" style="left:710.3px;top:608px;width:26px;text-align:center;font-size:15px;color:#111">sr</div>
<div class="a" style="left:602.4px;top:607px;width:1px;height:18.5px;background:#fafafa"></div>
<div class="a" style="left:629.4px;top:607px;width:1px;height:18.5px;background:#fafafa"></div>
<div class="a" style="left:655.2px;top:607px;width:1px;height:18.5px;background:#fafafa"></div>
<div class="a" style="left:682.4px;top:607px;width:1px;height:18.5px;background:#fafafa"></div>
<div class="a" style="left:709.3px;top:607px;width:1px;height:18.5px;background:#fafafa"></div>
<div class="a" style="left:736.0px;top:607px;width:1px;height:18.5px;background:#fafafa"></div>
<div class="a" style="left:18px;top:645px;width:724px;height:207px;background:#f2f2f2;border:1px solid #c8c8c8"></div>
<div class="a" style="left:19px;top:647px;width:722px;height:50px;background:#5096b4"></div>
<div class="t" style="left:19px;top:651px;width:366px;text-align:center;font-size:14px;font-weight:bold;font-style:italic;color:#fff">VSA OPOZORILA - jutri - NEDELJA</div>
<div class="t" style="left:19px;top:674px;width:366px;text-align:center;font-size:14px;font-weight:bold;font-style:italic;color:#fff">Slovenija</div>
<div class="t" style="left:385px;top:663px;width:356px;text-align:center;font-size:14px;font-weight:bold;font-style:italic;color:#fff">v teku dneva</div>
<div class="t" style="left:19px;top:699px;width:376px;text-align:center;font-size:13px;color:#2a5a8a">Opis in nasveti</div>
<div class="t" style="left:396.1px;top:699.5px;width:30px;margin-left:-15px;text-align:center;font-size:13px;color:#555">00</div>
<div class="a" style="left:395.3px;top:716px;width:1px;height:5px;background:#7aa2c4"></div>
<div class="t" style="left:437.4px;top:699.5px;width:30px;margin-left:-15px;text-align:center;font-size:13px;color:#555">03</div>
<div class="a" style="left:436.6px;top:716px;width:1px;height:5px;background:#7aa2c4"></div>
<div class="t" style="left:478.7px;top:699.5px;width:30px;margin-left:-15px;text-align:center;font-size:13px;color:#555">06</div>
<div class="a" style="left:477.9px;top:716px;width:1px;height:5px;background:#7aa2c4"></div>
<div class="t" style="left:520.0px;top:699.5px;width:30px;margin-left:-15px;text-align:center;font-size:13px;color:#555">09</div>
<div class="a" style="left:519.2px;top:716px;width:1px;height:5px;background:#7aa2c4"></div>
<div class="t" style="left:561.3px;top:699.5px;width:30px;margin-left:-15px;text-align:center;font-size:13px;color:#555">12</div>
<div class="a" style="left:560.5px;top:716px;width:1px;height:5px;background:#7aa2c4"></div>
<div class="t" style="left:602.6px;top:699.5px;width:30px;margin-left:-15px;text-align:center;font-size:13px;color:#555">15</div>
<div class="a" style="left:601.8px;top:716px;width:1px;height:5px;background:#7aa2c4"></div>
<div class="t" style="left:643.9px;top:699.5px;width:30px;margin-left:-15px;text-align:center;font-size:13px;color:#555">18</div>
<div class="a" style="left:643.1px;top:716px;width:1px;height:5px;background:#7aa2c4"></div>
<div class="t" style="left:685.2px;top:699.5px;width:30px;margin-left:-15px;text-align:center;font-size:13px;color:#555">21</div>
<div class="a" style="left:684.4px;top:716px;width:1px;height:5px;background:#7aa2c4"></div>
<div class="t" style="left:726.5px;top:699.5px;width:30px;margin-left:-15px;text-align:center;font-size:13px;color:#555">24</div>
<div class="a" style="left:725.7px;top:716px;width:1px;height:5px;background:#7aa2c4"></div>
<div class="a" style="left:19px;top:721px;width:722px;height:1px;background:#8fb0cc"></div>
<div class="t" style="left:33px;top:727.0px;font-size:14px;font-weight:bold;color:#555">Slovenija - severozahod</div>
<div class="a" style="left:19px;top:747.0px;width:377px;height:1.3px;background:#9ab4c8"></div>
<div class="a" style="left:396px;top:746.5px;width:330px;height:2.3px;background:#d4d8ea"></div>
<div class="a" style="left:396.0px;top:723.0px;width:41.3px;height:23.5px;background:#2ad564"></div>
<div class="a" style="left:437.3px;top:723.0px;width:41.3px;height:23.5px;background:#2ad564"></div>
<div class="a" style="left:478.6px;top:723.0px;width:41.3px;height:23.5px;background:#2ad564"></div>
<div class="a" style="left:519.9px;top:723.0px;width:41.3px;height:23.5px;background:#2ad564"></div>
<div class="a" style="left:561.2px;top:723.0px;width:41.3px;height:23.5px;background:#2ad564"></div>
<div class="a" style="left:602.5px;top:723.0px;width:41.3px;height:23.5px;background:#2ad564"></div>
<div class="a" style="left:643.8px;top:723.0px;width:41.3px;height:23.5px;background:#2ad564"></div>
<div class="a" style="left:685.1px;top:723.0px;width:41.3px;height:23.5px;background:#2ad564"></div>
<div class="a" style="left:437.1px;top:723.0px;width:1.5px;height:23.5px;background:rgba(235,240,245,0.75)"></div>
<div class="a" style="left:478.4px;top:723.0px;width:1.5px;height:23.5px;background:rgba(235,240,245,0.75)"></div>
<div class="a" style="left:519.7px;top:723.0px;width:1.5px;height:23.5px;background:rgba(235,240,245,0.75)"></div>
<div class="a" style="left:561.0px;top:723.0px;width:1.5px;height:23.5px;background:rgba(235,240,245,0.75)"></div>
<div class="a" style="left:602.3px;top:723.0px;width:1.5px;height:23.5px;background:rgba(235,240,245,0.75)"></div>
<div class="a" style="left:643.6px;top:723.0px;width:1.5px;height:23.5px;background:rgba(235,240,245,0.75)"></div>
<div class="a" style="left:684.9px;top:723.0px;width:1.5px;height:23.5px;background:rgba(235,240,245,0.75)"></div>
<div class="t" style="left:33px;top:752.5px;font-size:14px;font-weight:bold;color:#555">Slovenija - jugozahod</div>
<div class="a" style="left:19px;top:772.5px;width:377px;height:1.3px;background:#9ab4c8"></div>
<div class="a" style="left:396px;top:772.0px;width:330px;height:2.3px;background:#d4d8ea"></div>
<div class="a" style="left:396.0px;top:748.5px;width:41.3px;height:23.5px;background:#2ad564"></div>
<div class="a" style="left:437.3px;top:748.5px;width:41.3px;height:23.5px;background:#2ad564"></div>
<div class="a" style="left:478.6px;top:748.5px;width:41.3px;height:23.5px;background:#ffff00"></div>
<div class="a" style="left:519.9px;top:748.5px;width:41.3px;height:23.5px;background:#ffff00"></div>
<div class="a" style="left:561.2px;top:748.5px;width:41.3px;height:23.5px;background:#ffff00"></div>
<div class="a" style="left:602.5px;top:748.5px;width:41.3px;height:23.5px;background:#2ad564"></div>
<div class="a" style="left:643.8px;top:748.5px;width:41.3px;height:23.5px;background:#2ad564"></div>
<div class="a" style="left:685.1px;top:748.5px;width:41.3px;height:23.5px;background:#2ad564"></div>
<div class="a" style="left:437.1px;top:748.5px;width:1.5px;height:23.5px;background:rgba(235,240,245,0.75)"></div>
<div class="a" style="left:478.4px;top:748.5px;width:1.5px;height:23.5px;background:rgba(235,240,245,0.75)"></div>
<div class="a" style="left:519.7px;top:748.5px;width:1.5px;height:23.5px;background:rgba(235,240,245,0.75)"></div>
<div class="a" style="left:561.0px;top:748.5px;width:1.5px;height:23.5px;background:rgba(235,240,245,0.75)"></div>
<div class="a" style="left:602.3px;top:748.5px;width:1.5px;height:23.5px;background:rgba(235,240,245,0.75)"></div>
<div class="a" style="left:643.6px;top:748.5px;width:1.5px;height:23.5px;background:rgba(235,240,245,0.75)"></div>
<div class="a" style="left:684.9px;top:748.5px;width:1.5px;height:23.5px;background:rgba(235,240,245,0.75)"></div>
<div class="t" style="left:33px;top:778.0px;font-size:14px;font-weight:bold;color:#555">Slovenija - osrednja</div>
<div class="a" style="left:19px;top:798.0px;width:377px;height:1.3px;background:#9ab4c8"></div>
<div class="a" style="left:396px;top:797.5px;width:330px;height:2.3px;background:#d4d8ea"></div>
<div class="a" style="left:396.0px;top:774.0px;width:41.3px;height:23.5px;background:#2ad564"></div>
<div class="a" style="left:437.3px;top:774.0px;width:41.3px;height:23.5px;background:#2ad564"></div>
<div class="a" style="left:478.6px;top:774.0px;width:41.3px;height:23.5px;background:#2ad564"></div>
<div class="a" style="left:519.9px;top:774.0px;width:41.3px;height:23.5px;background:#2ad564"></div>
<div class="a" style="left:561.2px;top:774.0px;width:41.3px;height:23.5px;background:#2ad564"></div>
<div class="a" style="left:602.5px;top:774.0px;width:41.3px;height:23.5px;background:#2ad564"></div>
<div class="a" style="left:643.8px;top:774.0px;width:41.3px;height:23.5px;background:#2ad564"></div>
<div class="a" style="left:685.1px;top:774.0px;width:41.3px;height:23.5px;background:#2ad564"></div>
<div class="a" style="left:437.1px;top:774.0px;width:1.5px;height:23.5px;background:rgba(235,240,245,0.75)"></div>
<div class="a" style="left:478.4px;top:774.0px;width:1.5px;height:23.5px;background:rgba(235,240,245,0.75)"></div>
<div class="a" style="left:519.7px;top:774.0px;width:1.5px;height:23.5px;background:rgba(235,240,245,0.75)"></div>
<div class="a" style="left:561.0px;top:774.0px;width:1.5px;height:23.5px;background:rgba(235,240,245,0.75)"></div>
<div class="a" style="left:602.3px;top:774.0px;width:1.5px;height:23.5px;background:rgba(235,240,245,0.75)"></div>
<div class="a" style="left:643.6px;top:774.0px;width:1.5px;height:23.5px;background:rgba(235,240,245,0.75)"></div>
<div class="a" style="left:684.9px;top:774.0px;width:1.5px;height:23.5px;background:rgba(235,240,245,0.75)"></div>
<div class="t" style="left:33px;top:803.5px;font-size:14px;font-weight:bold;color:#555">Slovenija - jugovzhod</div>
<div class="a" style="left:19px;top:823.5px;width:377px;height:1.3px;background:#9ab4c8"></div>
<div class="a" style="left:396px;top:823.0px;width:330px;height:2.3px;background:#d4d8ea"></div>
<div class="a" style="left:396.0px;top:799.5px;width:41.3px;height:23.5px;background:#2ad564"></div>
<div class="a" style="left:437.3px;top:799.5px;width:41.3px;height:23.5px;background:#2ad564"></div>
<div class="a" style="left:478.6px;top:799.5px;width:41.3px;height:23.5px;background:#2ad564"></div>
<div class="a" style="left:519.9px;top:799.5px;width:41.3px;height:23.5px;background:#2ad564"></div>
<div class="a" style="left:561.2px;top:799.5px;width:41.3px;height:23.5px;background:#2ad564"></div>
<div class="a" style="left:602.5px;top:799.5px;width:41.3px;height:23.5px;background:#2ad564"></div>
<div class="a" style="left:643.8px;top:799.5px;width:41.3px;height:23.5px;background:#2ad564"></div>
<div class="a" style="left:685.1px;top:799.5px;width:41.3px;height:23.5px;background:#2ad564"></div>
<div class="a" style="left:437.1px;top:799.5px;width:1.5px;height:23.5px;background:rgba(235,240,245,0.75)"></div>
<div class="a" style="left:478.4px;top:799.5px;width:1.5px;height:23.5px;background:rgba(235,240,245,0.75)"></div>
<div class="a" style="left:519.7px;top:799.5px;width:1.5px;height:23.5px;background:rgba(235,240,245,0.75)"></div>
<div class="a" style="left:561.0px;top:799.5px;width:1.5px;height:23.5px;background:rgba(235,240,245,0.75)"></div>
<div class="a" style="left:602.3px;top:799.5px;width:1.5px;height:23.5px;background:rgba(235,240,245,0.75)"></div>
<div class="a" style="left:643.6px;top:799.5px;width:1.5px;height:23.5px;background:rgba(235,240,245,0.75)"></div>
<div class="a" style="left:684.9px;top:799.5px;width:1.5px;height:23.5px;background:rgba(235,240,245,0.75)"></div>
<div class="t" style="left:33px;top:829.0px;font-size:14px;font-weight:bold;color:#555">Slovenija - severovzhod</div>
<div class="a" style="left:19px;top:849.0px;width:377px;height:1.3px;background:#9ab4c8"></div>
<div class="a" style="left:396px;top:848.5px;width:330px;height:2.3px;background:#d4d8ea"></div>
<div class="a" style="left:396.0px;top:825.0px;width:41.3px;height:23.5px;background:#2ad564"></div>
<div class="a" style="left:437.3px;top:825.0px;width:41.3px;height:23.5px;background:#2ad564"></div>
<div class="a" style="left:478.6px;top:825.0px;width:41.3px;height:23.5px;background:#2ad564"></div>
<div class="a" style="left:519.9px;top:825.0px;width:41.3px;height:23.5px;background:#2ad564"></div>
<div class="a" style="left:561.2px;top:825.0px;width:41.3px;height:23.5px;background:#ffff00"></div>
<div class="a" style="left:602.5px;top:825.0px;width:41.3px;height:23.5px;background:#ffff00"></div>
<div class="a" style="left:643.8px;top:825.0px;width:41.3px;height:23.5px;background:#ffff00"></div>
<div class="a" style="left:685.1px;top:825.0px;width:41.3px;height:23.5px;background:#ffff00"></div>
<div class="a" style="left:437.1px;top:825.0px;width:1.5px;height:23.5px;background:rgba(235,240,245,0.75)"></div>
<div class="a" style="left:478.4px;top:825.0px;width:1.5px;height:23.5px;background:rgba(235,240,245,0.75)"></div>
<div class="a" style="left:519.7px;top:825.0px;width:1.5px;height:23.5px;background:rgba(235,240,245,0.75)"></div>
<div class="a" style="left:561.0px;top:825.0px;width:1.5px;height:23.5px;background:rgba(235,240,245,0.75)"></div>
<div class="a" style="left:602.3px;top:825.0px;width:1.5px;height:23.5px;background:rgba(235,240,245,0.75)"></div>
<div class="a" style="left:643.6px;top:825.0px;width:1.5px;height:23.5px;background:rgba(235,240,245,0.75)"></div>
<div class="a" style="left:684.9px;top:825.0px;width:1.5px;height:23.5px;background:rgba(235,240,245,0.75)"></div>
<div class="a" style="left:395.3px;top:722px;width:1px;height:127px;background:#fafafa"></div>
<svg class="a" style="left:362px;top:749.5px" width="20" height="20" viewBox="0 0 27 27"><rect x="0.8" y="0.8" width="25.4" height="25.4" fill="#ffff00" stroke="#111" stroke-width="1.6"/><g transform="translate(1.5,1.5) scale(0.89)"><use href="#i5"/></g></svg>
<svg class="a" style="left:362px;top:825.5px" width="20" height="20" viewBox="0 0 27 27"><rect x="0.8" y="0.8" width="25.4" height="25.4" fill="#ffff00" stroke="#111" stroke-width="1.6"/><g transform="translate(1.5,1.5) scale(0.89)"><use href="#i1"/></g></svg>
</body></html>
